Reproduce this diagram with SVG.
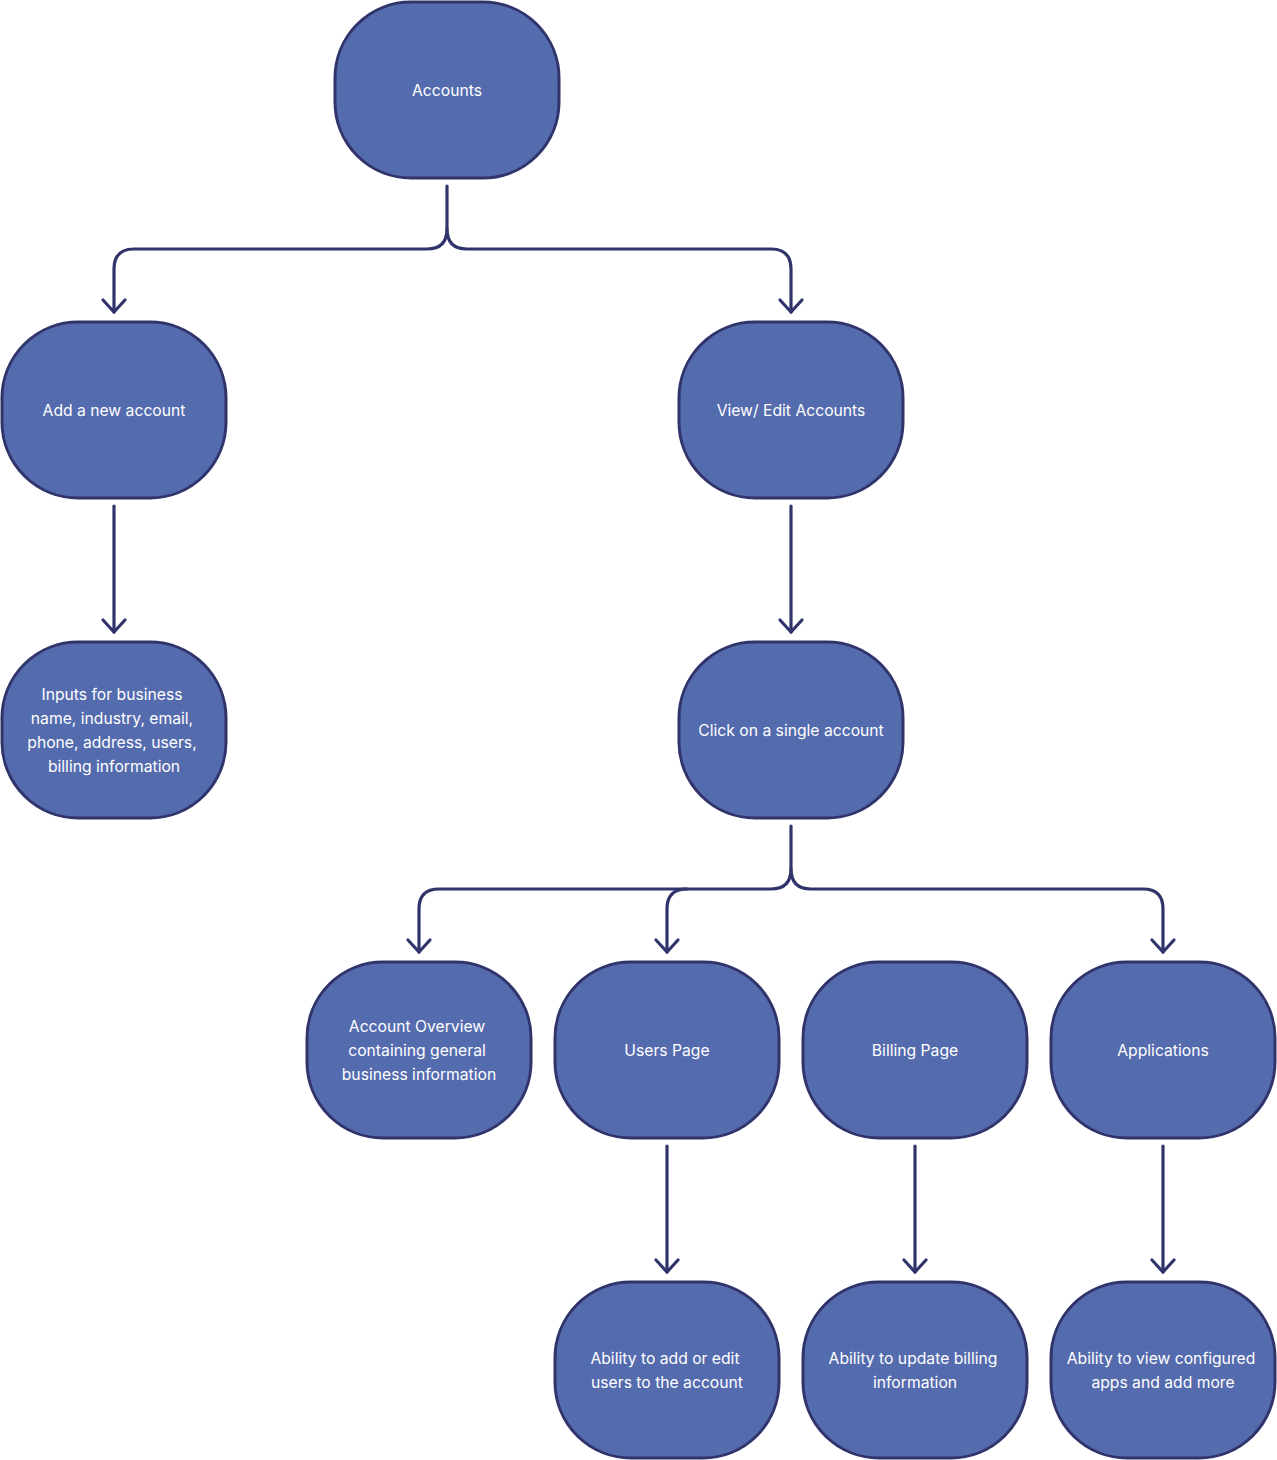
<svg xmlns="http://www.w3.org/2000/svg" width="1277" height="1460" viewBox="0 0 1277 1460">
<style>
.n rect{fill:#546BAE;stroke:#30346B;stroke-width:3}
.n text{fill:#FFFFFF;font-family:Inter,"Noto Sans","Liberation Sans",sans-serif;font-size:15.7px;text-anchor:middle}
.c path{fill:none;stroke:#30346B;stroke-width:3.2;stroke-linecap:round;stroke-linejoin:round}
</style>
<rect width="1277" height="1460" fill="#FFFFFF"/>
<g class="c" id="connectors">
<path d="M447 186 V229 Q447 249 427 249 H134 Q114 249 114 269 V312"/>
<path d="M447 229 Q447 249 467 249 H771 Q791 249 791 269 V312"/>
<path d="M103 300 L114 312 L125 300"/>
<path d="M780 300 L791 312 L802 300"/>
<path d="M114 506 V632"/>
<path d="M103 620 L114 632 L125 620"/>
<path d="M791 506 V632"/>
<path d="M780 620 L791 632 L802 620"/>
<path d="M791 826 V869 Q791 889 771 889 H439 Q419 889 419 909 V952"/>
<path d="M687 889 Q667 889 667 909 V952"/>
<path d="M791 869 Q791 889 811 889 H1143 Q1163 889 1163 909 V952"/>
<path d="M408 940 L419 952 L430 940"/>
<path d="M656 940 L667 952 L678 940"/>
<path d="M1152 940 L1163 952 L1174 940"/>
<path d="M667 1146 V1272"/>
<path d="M656 1260 L667 1272 L678 1260"/>
<path d="M915 1146 V1272"/>
<path d="M904 1260 L915 1272 L926 1260"/>
<path d="M1163 1146 V1272"/>
<path d="M1152 1260 L1163 1272 L1174 1260"/>
</g>
<g class="n" id="accounts"><rect x="335" y="2" width="224" height="176" rx="76"/><text x="447" y="96">Accounts</text></g>
<g class="n" id="add-account"><rect x="2" y="322" width="224" height="176" rx="76"/><text x="114" y="416">Add a new account</text></g>
<g class="n" id="view-edit"><rect x="679" y="322" width="224" height="176" rx="76"/><text x="791" y="416">View/ Edit Accounts</text></g>
<g class="n" id="inputs"><rect x="2" y="642" width="224" height="176" rx="76"/><text x="114"><tspan x="112" y="700">Inputs for business</tspan><tspan x="112" y="724">name, industry, email,</tspan><tspan x="112" y="748">phone, address, users,</tspan><tspan x="114" y="772">billing information</tspan></text></g>
<g class="n" id="click-account"><rect x="679" y="642" width="224" height="176" rx="76"/><text x="791" y="736">Click on a single account</text></g>
<g class="n" id="overview"><rect x="307" y="962" width="224" height="176" rx="76"/><text><tspan x="417" y="1032">Account Overview</tspan><tspan x="417" y="1056">containing general</tspan><tspan x="419" y="1080">business information</tspan></text></g>
<g class="n" id="users"><rect x="555" y="962" width="224" height="176" rx="76"/><text x="667" y="1056">Users Page</text></g>
<g class="n" id="billing"><rect x="803" y="962" width="224" height="176" rx="76"/><text x="915" y="1056">Billing Page</text></g>
<g class="n" id="applications"><rect x="1051" y="962" width="224" height="176" rx="76"/><text x="1163" y="1056">Applications</text></g>
<g class="n" id="users-edit"><rect x="555" y="1282" width="224" height="176" rx="76"/><text><tspan x="665" y="1364">Ability to add or edit</tspan><tspan x="667" y="1388">users to the account</tspan></text></g>
<g class="n" id="billing-update"><rect x="803" y="1282" width="224" height="176" rx="76"/><text><tspan x="913" y="1364">Ability to update billing</tspan><tspan x="915" y="1388">information</tspan></text></g>
<g class="n" id="apps-view"><rect x="1051" y="1282" width="224" height="176" rx="76"/><text><tspan x="1161" y="1364">Ability to view configured</tspan><tspan x="1163" y="1388">apps and add more</tspan></text></g>
</svg>
